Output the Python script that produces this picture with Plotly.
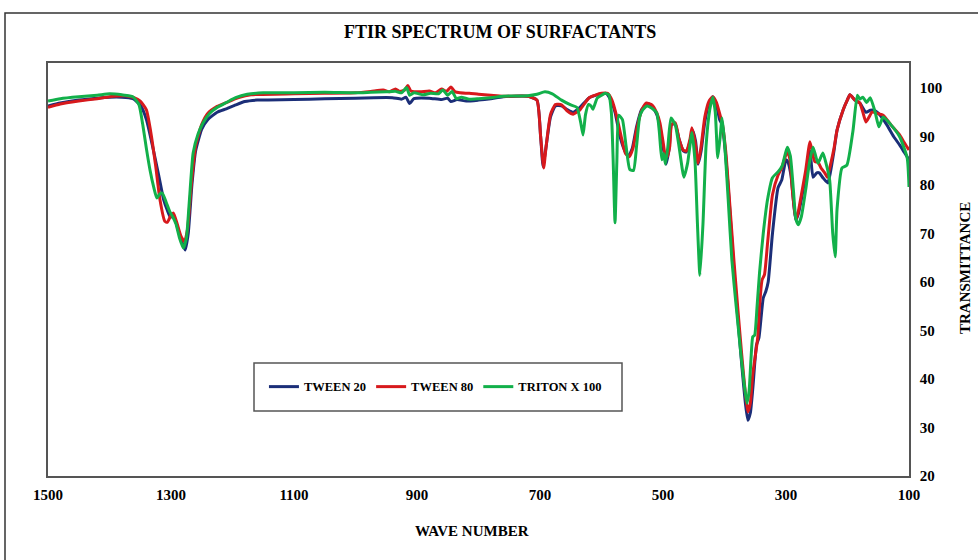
import plotly.graph_objects as go

# ---------------- data ----------------
tween20_wn = [1500, 1480, 1450, 1420, 1400, 1380, 1362, 1350, 1340, 1330, 1320, 1312, 1306, 1301, 1296,
              1290, 1283, 1277, 1272, 1266, 1260, 1250, 1240, 1225, 1210, 1195, 1180, 1160, 1100, 1050,
              1000, 970, 940, 925, 918, 912, 905, 880, 860, 850, 845, 835, 820, 800, 780, 760, 720,
              705, 699, 695, 690, 683, 675, 665, 655, 646, 635, 620, 600, 592, 585, 578, 570, 562, 556,
              550, 543, 535, 525, 518, 510, 505, 500, 495, 490, 486, 480, 474, 467, 462, 456, 452, 447,
              443, 438, 432, 425, 419, 413, 408, 404, 398, 392, 385, 378, 372, 366, 362, 358, 354, 348,
              344, 337, 333, 329, 322, 313, 307, 300, 297, 292, 287, 284, 280, 275, 268, 261, 256, 250,
              246, 240, 232, 228, 222, 217, 207, 200, 196, 188, 180, 170, 163, 157, 150, 136, 125, 115,
              108, 100]
tween20_t = [96.3, 96.9, 97.5, 97.9, 98.1, 98.1, 97.8, 96.5, 93.5, 88.0, 82.0, 77.0, 74.8, 73.4, 73.6,
             71.5, 68.5, 66.6, 70.0, 80.0, 87.0, 91.5, 93.5, 95.0, 95.7, 96.5, 97.2, 97.5, 97.6, 97.8,
             97.9, 98.0, 98.0, 97.7, 98.1, 96.8, 97.8, 97.9, 97.6, 97.9, 97.2, 97.6, 97.3, 97.5, 97.8, 98.2, 98.3,
             97.5, 90.0, 83.8, 88.0, 94.0, 96.3, 96.3, 95.5, 95.0, 96.0, 98.0, 98.8, 98.8, 97.5, 95.0, 90.0, 87.0, 86.0,
             87.5, 92.0, 95.5, 96.8, 96.3, 94.5, 92.0, 88.0, 84.3, 87.5, 92.5, 92.5, 89.5, 87.0, 86.8, 89.0, 91.3, 89.0,
             84.3, 87.0, 93.0, 97.0, 98.2, 96.5, 93.5, 92.5, 86.0, 76.0, 63.0, 52.0, 43.0, 35.0, 31.5, 33.0, 38.0, 47.0,
             48.5, 56.7, 58.0, 60.0, 70.0, 79.4, 81.0, 85.2, 84.8, 82.0, 75.5, 72.8, 74.0, 77.0, 82.0, 87.0, 81.6, 82.5,
             82.5, 81.5, 80.4, 82.5, 87.0, 91.3, 95.5, 97.6, 98.6, 97.5, 96.9, 95.0, 95.4, 95.4, 94.8, 92.4, 90.0, 88.2,
             86.8, 85.2]

tween80_wn = [1500, 1480, 1450, 1420, 1400, 1375, 1360, 1350, 1340, 1333, 1325, 1318, 1310, 1306, 1300,
              1296, 1290, 1284, 1278, 1273, 1267, 1260, 1250, 1240, 1225, 1210, 1190, 1170, 1100, 1050,
              1000, 975, 955, 945, 935, 928, 920, 915, 910, 895, 880, 870, 860, 852, 845, 838, 830, 815,
              800, 780, 760, 720, 705, 699, 694, 690, 683, 675, 665, 655, 646, 635, 620, 600, 590, 583,
              576, 568, 561, 555, 549, 542, 534, 527, 518, 510, 505, 500, 496, 493, 489, 486, 480, 474,
              467, 462, 456, 453, 448, 443, 438, 432, 425, 419, 413, 407, 404, 398, 392, 385, 378, 372,
              366, 362, 358, 354, 346, 343, 339, 335, 330, 322, 313, 307, 298, 294, 289, 284, 280, 275,
              268, 261, 256, 253, 248, 243, 237, 233, 228, 222, 217, 207, 200, 196, 188, 180, 175, 170,
              165, 160, 150, 142, 130, 115, 108, 100]
tween80_t = [96.0, 96.7, 97.3, 97.8, 98.2, 98.4, 98.0, 97.3, 95.5, 91.0, 84.0, 77.0, 72.5, 72.3, 73.8,
             74.2, 72.0, 69.5, 68.3, 71.0, 80.0, 88.0, 92.5, 94.8, 96.2, 97.0, 98.0, 98.6, 98.8, 98.9,
             99.0, 99.3, 99.6, 99.2, 99.8, 99.3, 99.6, 100.5, 99.4, 99.2, 99.4, 99.0, 99.8, 99.3, 100.2, 99.2, 99.0, 98.9,
             98.7, 98.5, 98.3, 98.3, 97.5, 90.0, 83.5, 88.0, 94.5, 96.6, 96.5, 95.2, 94.6, 95.5, 98.0, 98.9, 98.9, 97.5,
             94.5, 90.0, 86.5, 85.8, 87.5, 92.0, 95.6, 96.9, 96.5, 94.8, 92.8, 89.0, 86.0, 85.9, 88.0, 92.5, 92.8, 89.5,
             87.2, 87.0, 89.5, 91.8, 89.0, 84.5, 88.0, 94.0, 97.3, 98.2, 97.0, 94.3, 93.0, 87.0, 77.0, 65.0, 54.0, 45.0,
             37.0, 33.2, 35.0, 41.0, 48.5, 55.0, 60.4, 61.5, 68.0, 78.0, 82.0, 83.5, 86.9, 85.5, 78.0, 72.8, 74.5, 78.0,
             83.0, 88.9, 86.0, 84.8, 84.7, 83.5, 82.5, 81.6, 84.0, 87.5, 91.3, 95.5, 97.6, 98.6, 97.5, 96.9, 95.0, 93.0,
             94.0, 95.0, 94.7, 94.4, 92.5, 90.3, 88.8, 87.2]

triton_wn = [1500, 1480, 1450, 1420, 1400, 1380, 1362, 1352, 1346, 1340, 1334, 1328, 1323, 1318, 1314,
             1308, 1302, 1297, 1292, 1286, 1280, 1275, 1270, 1264, 1256, 1248, 1237, 1225, 1210, 1195,
             1176, 1150, 1100, 1050, 1000, 975, 950, 935, 925, 917, 912, 905, 890, 878, 865, 858, 850,
             843, 836, 828, 815, 800, 780, 760, 720, 705, 692, 680, 665, 650, 640, 634, 630, 626, 621,
             617, 614, 607, 600, 594, 588, 584, 581, 578, 575, 572, 566, 560, 554, 548, 543, 538, 533,
             526, 518, 510, 506, 502, 499, 496, 492, 487, 480, 474, 466, 460, 453, 448, 444, 440, 435,
             430, 424, 419, 415, 411, 407, 404, 400, 394, 388, 381, 374, 368, 363.5, 360, 357, 354, 351,
             347, 343, 337, 330, 322, 313, 306, 298, 293, 288, 284, 280, 275, 268, 262, 256, 248, 240,
             235, 229, 224, 220, 217, 209, 201, 191, 184, 180, 175, 169, 163, 155, 149, 142, 130, 115,
             103, 100]
triton_t = [97.3, 97.8, 98.2, 98.5, 98.8, 98.6, 98.2, 96.5, 92.5, 87.5, 83.0, 79.5, 77.3, 78.2, 78.3,
            76.5, 74.5, 73.4, 72.0, 69.0, 67.0, 69.0, 77.0, 86.6, 90.5, 92.8, 94.8, 96.0, 97.0, 98.0,
            98.7, 99.0, 99.0, 99.1, 99.0, 99.1, 99.2, 99.3, 99.0, 100.1, 98.5, 99.0, 98.6, 98.9, 98.8, 99.6, 98.5,
            99.3, 97.8, 98.1, 97.7, 97.8, 98.0, 98.3, 98.4, 98.7, 99.2, 98.8, 97.5, 96.5, 96.0, 93.0, 90.3, 94.5, 96.6,
            96.3, 95.6, 97.9, 98.5, 98.9, 98.6, 95.0, 85.0, 72.2, 85.0, 94.4, 93.5, 88.0, 83.2, 83.0, 88.0, 94.0, 95.5,
            96.3, 95.8, 94.8, 91.0, 85.2, 86.5, 84.3, 88.0, 93.8, 92.4, 88.0, 81.6, 84.5, 90.8, 85.0, 72.0, 61.4, 72.0,
            88.0, 95.5, 98.1, 95.0, 85.6, 90.0, 93.8, 89.0, 77.0, 64.5, 55.0, 46.0, 39.0, 35.0, 37.5, 44.0, 48.7, 49.0,
            55.0, 62.0, 70.0, 77.0, 81.5, 82.7, 84.0, 87.8, 86.0, 79.0, 73.0, 71.8, 73.5, 79.0, 84.5, 87.8, 84.5, 86.6,
            84.5, 81.0, 70.0, 65.2, 75.0, 83.5, 84.1, 91.3, 98.5, 97.7, 98.1, 97.0, 98.0, 95.0, 92.0, 94.0, 92.5, 89.9,
            85.6, 79.6]

series_names = ["TWEEN 20", "TWEEN 80", "TRITON X 100"]
series_colors = ["#1B2E78", "#D7191C", "#12B04A"]
x_ticks = [1500, 1300, 1100, 900, 700, 500, 300, 100]
y_ticks = [20, 30, 40, 50, 60, 70, 80, 90, 100]

# ---------------- figure ----------------
FONT = "Liberation Serif, Times New Roman, serif"
fig = go.Figure()
for wn, t, name, col in zip([tween20_wn, tween80_wn, triton_wn],
                            [tween20_t, tween80_t, triton_t],
                            series_names, series_colors):
    fig.add_trace(go.Scatter(x=wn, y=t, mode="lines", name=name,
                             line=dict(color=col, width=3, shape="spline", smoothing=0.5)))

fig.update_layout(
    width=978, height=560,
    margin=dict(l=48, r=69, t=63, b=84),
    paper_bgcolor="white", plot_bgcolor="white",
    showlegend=True,
    legend=dict(orientation="h", x=0.450, y=0.2155, xanchor="center", yanchor="middle",
                bgcolor="rgba(0,0,0,0)", borderwidth=0,
                font=dict(family=FONT, size=12.5, color="black", weight="bold"),
                itemwidth=30),
    font=dict(family=FONT, color="black"),
)

fig.update_xaxes(range=[1500, 100], tickvals=x_ticks, ticktext=[str(v) for v in x_ticks],
                 showgrid=False, zeroline=False, showline=True, mirror=True,
                 linecolor="#555555", linewidth=1.5, ticks="",
                 ticklabelstandoff=4,
                 tickfont=dict(family=FONT, size=15, color="black", weight="bold"))
fig.update_yaxes(range=[20, 105.15], side="right", tickvals=y_ticks,
                 showgrid=False, zeroline=False, showline=True, mirror=True,
                 linecolor="#555555", linewidth=1.5, ticks="",
                 ticklabelstandoff=6,
                 tickfont=dict(family=FONT, size=15, color="black", weight="bold"))

# title and axis titles
fig.add_annotation(text="FTIR SPECTRUM OF SURFACTANTS", xref="paper", yref="paper",
                   x=(500 - 48) / 861, y=(476 - 32) / 413, xanchor="center", yanchor="middle",
                   showarrow=False, font=dict(family=FONT, size=18, color="black", weight="bold"))
fig.add_annotation(text="WAVE NUMBER", xref="paper", yref="paper",
                   x=(472 - 48) / 861, y=(476 - 531) / 413, xanchor="center", yanchor="middle",
                   showarrow=False, font=dict(family=FONT, size=15, color="black", weight="bold"))
fig.add_annotation(text="TRANSMITTANCE", xref="paper", yref="paper", textangle=-90,
                   x=(965 - 48) / 861, y=(476 - 268) / 413, xanchor="center", yanchor="middle",
                   showarrow=False, font=dict(family=FONT, size=15, color="black", weight="bold"))

# legend box
fig.add_shape(type="rect", xref="paper", yref="paper",
              x0=(254 - 48) / 861, x1=(622 - 48) / 861,
              y0=(476 - 411) / 413, y1=(476 - 363) / 413,
              line=dict(color="#555555", width=1.5), fillcolor="white", layer="below")
# outer chart border
fig.add_shape(type="rect", xref="paper", yref="paper",
              x0=(5 - 48) / 861, x1=(990 - 48) / 861,
              y0=(476 - 580) / 413, y1=(476 - 13) / 413,
              line=dict(color="#333333", width=1.5), fillcolor="rgba(0,0,0,0)")

fig.write_html("out.html", config={"displayModeBar": False},
               post_script="document.body.style.margin='0px';document.body.style.padding='0px';")
